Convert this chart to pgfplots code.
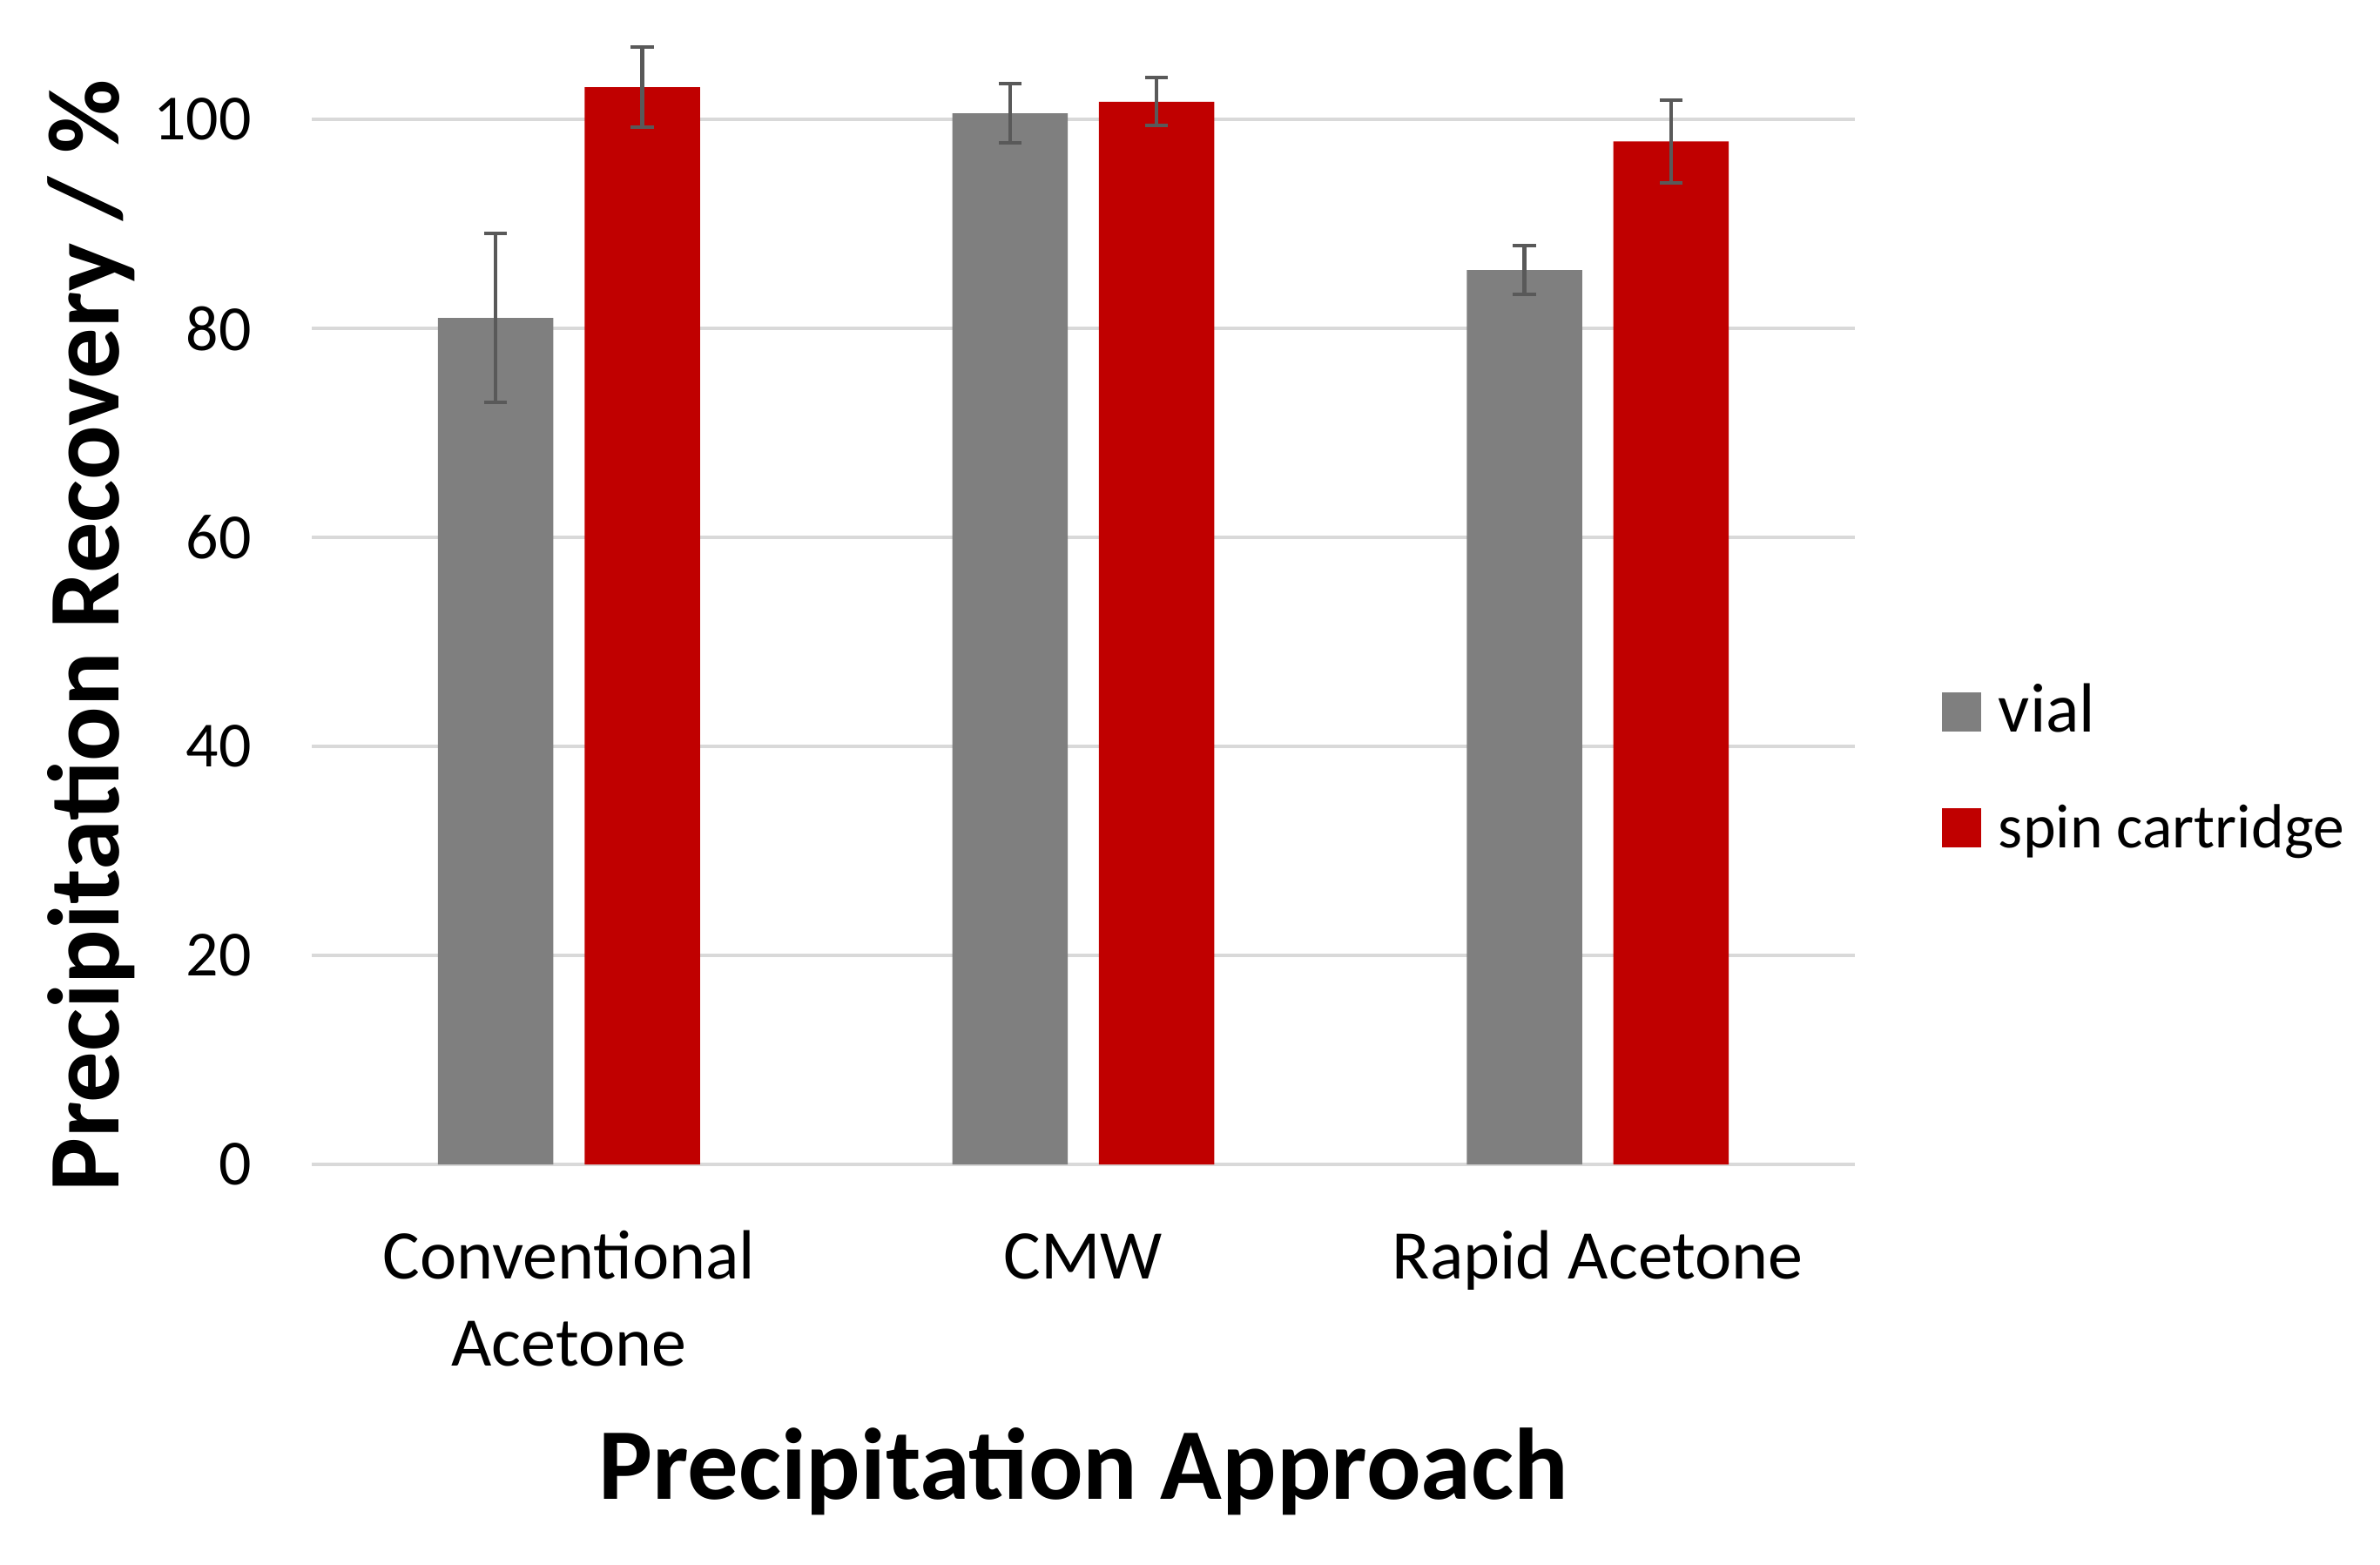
\documentclass[border=0pt]{standalone}
\usepackage{pgfplots}
\pgfplotsset{compat=1.18}
\usepackage{fontspec}
\setmainfont{Carlito}
\definecolor{vialc}{HTML}{7F7F7F}
\definecolor{spinc}{HTML}{C00000}
\definecolor{gridc}{HTML}{D9D9D9}
\definecolor{errc}{HTML}{595959}
\begin{document}
\begin{tikzpicture}
\begin{axis}[
  name=ax,
  scale only axis,
  width=318.96pt, height=237.6pt,
  xmin=-0.5, xmax=2.5, ymin=0, ymax=110,
  axis line style={draw=none},
  major tick length=0pt,
  ytick={0,20,40,60,80,100},
  xtick={0,1,2},
  xticklabels={{Conventional\\Acetone},{CMW\\\mbox{}},{Rapid Acetone\\\mbox{}}},
  xticklabel style={align=center, anchor=base, inner sep=0pt, yshift=-41.6pt,
    font=\fontsize{14.4pt}{18pt}\selectfont},
  yticklabel style={anchor=east, inner sep=0pt, xshift=-12.24pt,
    font=\fontsize{13.3pt}{16pt}\selectfont},
  /pgf/number format/assume math mode=true,
  ymajorgrids,
  major grid style={color=gridc, line width=0.78pt},
  xlabel={Precipitation Approach},
  ylabel={Precipitation Recovery / \%},
  every axis x label/.style={at={(axis description cs:0.5,-0.2908)}, anchor=base,
    font=\fontsize{21pt}{25pt}\selectfont\bfseries},
  every axis y label/.style={at={(axis description cs:-0.1249,0.46)}, anchor=base, rotate=90,
    font=\fontsize{21pt}{25pt}\selectfont\bfseries},
  legend style={at={(axis description cs:1.05643,0.42083)}, anchor=north west,
    draw=none, fill=none, inner sep=0pt, outer sep=0pt,
    row sep=10.5pt, column sep=3.6pt,
    nodes={anchor=base west, inner sep=0pt, text height=10.5pt, text depth=3pt}},
  legend cell align=left,
]
\addplot[ybar, bar width=23.85pt, bar shift=0pt, fill=vialc, draw=none,
  legend image code/.code={\fill[vialc] (0pt,0pt) rectangle (8.1pt,8.1pt);},
  error bars/.cd, y dir=both, y explicit,
  error bar style={color=errc, line width=0.75pt},
  error mark options={color=errc, line width=0.7pt, mark size=2.37pt, rotate=90}]
  coordinates {(-0.1425,81.0) +- (0,8.1) (0.8575,100.6) +- (0,2.85) (1.8575,85.6) +- (0,2.3)};
\addlegendentry{\fontsize{14.4pt}{17pt}\selectfont vial}
\addplot[ybar, bar width=23.85pt, bar shift=0pt, fill=spinc, draw=none,
  legend image code/.code={\fill[spinc] (0pt,0pt) rectangle (8.1pt,8.1pt);},
  error bars/.cd, y dir=both, y explicit,
  error bar style={color=errc, line width=0.75pt},
  error mark options={color=errc, line width=0.7pt, mark size=2.37pt, rotate=90}]
  coordinates {(0.1425,103.1) +- (0,3.85) (1.1425,101.7) +- (0,2.3) (2.1425,97.9) +- (0,3.95)};
\addlegendentry{\fontsize{12.9pt}{15pt}\selectfont spin cartridge}
\end{axis}
\pgfresetboundingbox
\path ([shift={(-64.44pt,-82.76pt)}]ax.south west) rectangle ([shift={(427.5pt,240.7pt)}]ax.south west);
\end{tikzpicture}
\end{document}
